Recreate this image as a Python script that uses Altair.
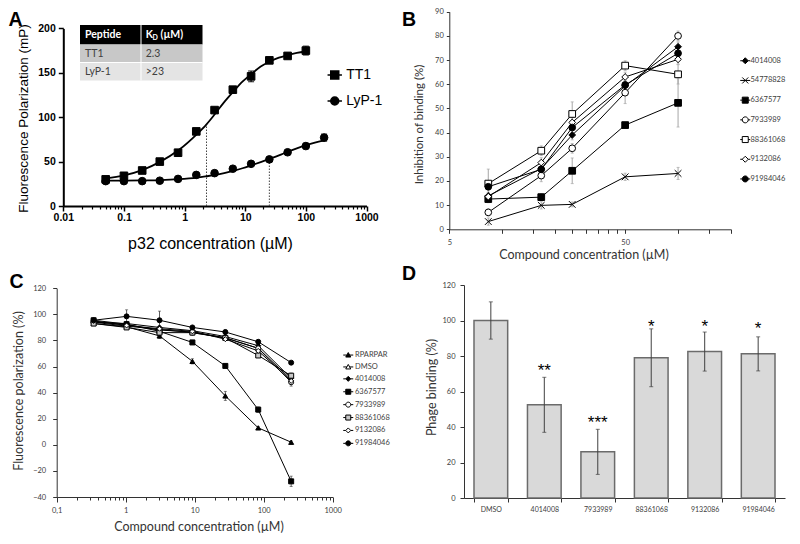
import altair as alt
import pandas as pd

W, H = 784, 528
FA = "Liberation Sans"
FB = "Lato"

# ---------------- Panel A data ----------------
a_series = ["TT1", "LyP-1"]
a_tt1_conc = [0.05, 0.1, 0.2, 0.39, 0.78, 1.56, 3.125, 6.25, 12.5, 25, 50, 100]
a_tt1_fp = [30, 34, 40, 50, 60, 84, 108, 131, 146, 164, 169, 175]
a_tt1_err = [1, 1, 1, 1, 1, 1, 1.5, 2, 6, 2, 3, 5]
a_lyp_conc = [0.05, 0.1, 0.2, 0.39, 0.78, 1.56, 3.125, 6.25, 12.5, 25, 50, 100, 200]
a_lyp_fp = [28, 28, 28, 28.5, 30.5, 35, 37, 42, 47.5, 52.5, 60.5, 67.5, 77]
a_lyp_err = [1, 1.5, 1, 1, 1, 1, 1, 1, 1, 1, 1, 3, 4]
a_fit_conc = [0.05, 0.1, 0.2, 0.4, 0.8, 1.6, 2.3, 3.2, 4.5, 6.4, 9, 12.8, 18, 25, 36, 50, 71, 100, 141, 200]
a_fit_tt1 = [31, 34.5, 40.5, 50, 63, 81, 92, 104, 117, 129, 140, 149, 157, 162.5, 167, 170, 172.5, 174]
a_fit_lyp = [28.5, 28.6, 28.8, 29.2, 30.2, 32, 33.5, 35, 37, 39.5, 42.5, 46, 49.5, 53, 57, 61, 65, 68.5, 71.5, 74]
a_kd_conc = [2.3, 25]
a_kd_fp = [92, 53]
tbl_head = ["Peptide", "K", "D", "(µM)"]
tbl_peptide = ["TT1", "LyP-1"]
tbl_kd = ["2.3", ">23"]

# ---------------- Panel B data ----------------
b_conc = [8.33, 16.67, 25, 50, 100]
b_series = ["4014008", "54778828", "6367577", "7933989", "88361068", "9132086", "91984046"]
b_vals = [
    [13.8, 25.1, 39.0, 59.3, 75.5],
    [3.2, 9.9, 10.3, 21.7, 23.1],
    [12.5, 13.3, 24.2, 43.1, 52.3],
    [7.0, 22.2, 33.5, 56.5, 80.0],
    [18.9, 32.5, 47.7, 67.7, 64.1],
    [13.5, 27.6, 44.2, 63.0, 70.3],
    [17.6, 24.8, 42.1, 59.7, 72.8],
]
b_errs = [
    [1.5, 1.5, 2, 2, 2],
    [1.5, 1.5, 1, 1.5, 2.5],
    [1.5, 1.5, 5.3, 1, 10],
    [1.5, 2.5, 2, 4.5, 2],
    [6, 2, 5, 2, 4],
    [1.5, 2, 2, 2, 2],
    [1.5, 2, 2, 2, 2],
]

# ---------------- Panel C data ----------------
c_conc = [0.343, 1.03, 3.09, 9.26, 27.8, 83.3, 250]
c_series = ["RPARPAR", "DMSO", "4014008", "6367577", "7933989", "88361068", "9132086", "91984046"]
c_vals = [
    [93, 90.5, 83.5, 64, 37.5, 13, 2],
    [94.5, 92, 88, 86.5, 82, 74, 50],
    [94, 93, 90, 87.5, 83, 76, 51],
    [95.5, 92.5, 87, 78.5, 60.5, 27, -28],
    [94, 91, 88.5, 86, 82, 74, 48],
    [93, 90, 86, 86, 82, 68.5, 53],
    [95, 91.5, 89, 87, 81, 72, 49],
    [95.5, 98.5, 95.5, 90, 86.5, 79, 63],
]
c_errs = [
    [1, 1, 2, 2, 3.5, 1, 1],
    [1, 1, 1, 1, 1, 1, 2],
    [1, 1, 1, 1, 1, 1, 2],
    [1, 1, 1, 1, 1, 2, 4],
    [1, 1, 1, 1, 1, 1, 3],
    [1, 1, 1, 1, 1, 1, 2],
    [1, 1, 1, 1, 1, 1, 2],
    [1, 5, 7, 1, 1.5, 1, 1],
]

# ---------------- Panel D data ----------------
d_cats = ["DMSO", "4014008", "7933989", "88361068", "9132086", "91984046"]
d_vals = [100, 52.5, 26, 79, 82.5, 81.2]
d_errs = [10.5, 15.5, 12.7, 16.3, 11, 9.6]
d_stars = ["", "**", "***", "*", "*", "*"]
d_star_pos = [0, 74.3, 44.8, 98.7, 98.7, 97.8]

panel_letters = ["A", "B", "C", "D"]


def long_df(names, xs_list, ys_list, es_list):
    rows = []
    for n, xs, ys, es in zip(names, xs_list, ys_list, es_list):
        for x, y, e in zip(xs, ys, es):
            rows.append({"series": n, "x": x, "y": y, "lo": y - e, "hi": y + e})
    return pd.DataFrame(rows)


def ax(orient, offset, **kw):
    base = dict(orient=orient, offset=offset, grid=False, labelFlush=False, labelOverlap=False)
    base.update(kw)
    return alt.Axis(**base)


# marker paths for legends (line + marker)
def leg_path(marker, L):
    if marker == "x":
        return f"M{-L},0H{L}M-1,-1L1,1M-1,1L1,-1"
    if marker == "tri":
        line = f"M{-L},0H-0.55M0.55,0H{L}"
    else:
        line = f"M{-L},0H-1M1,0H{L}"
    shapes = {
        "sq": "M-1,-1H1V1H-1Z",
        "ci": "M-1,0A1,1,0,1,0,1,0A1,1,0,1,0,-1,0Z",
        "di": "M0,-1L1,0L0,1L-1,0Z",
        "tri": "M0,-1L1,0.8H-1Z",
    }
    return line + shapes[marker]


XPATH = "M-1,-1L1,1M-1,1L1,-1"

def legend_layer(names, shape_range, fill_range, size, sw, leg):
    base = alt.Chart(pd.DataFrame({"series": names})).transform_filter("false")
    return base.mark_point(strokeWidth=sw, size=size, opacity=1).encode(
        x=alt.value(0), y=alt.value(0),
        shape=alt.Shape("series:N", scale=alt.Scale(domain=names, range=shape_range), legend=leg),
        fill=alt.Fill("series:N", scale=alt.Scale(domain=names, range=fill_range), legend=leg),
        stroke=alt.Stroke("series:N", scale=alt.Scale(domain=names, range=["black"] * len(names)), legend=leg),
    )


def resolve_panel(ch):
    return (ch.resolve_scale(shape="independent", fill="independent", size="independent", stroke="independent")
              .resolve_axis(x="independent", y="independent")
              .resolve_legend(shape="independent", fill="independent", size="independent", stroke="independent"))


# ======================= Panel A =======================
xA = alt.Scale(type="log", domain=[0.01, 1000], range=[55.3, 358.5], nice=False)
yA = alt.Scale(domain=[0, 200], range=[198, 20.4], nice=False, zero=False)
dfA = long_df(a_series, [a_tt1_conc, a_lyp_conc], [a_tt1_fp, a_lyp_fp], [a_tt1_err, a_lyp_err])
dfA_fit = pd.concat([
    pd.DataFrame({"series": "TT1", "x": a_fit_conc[:len(a_fit_tt1)], "y": a_fit_tt1}),
    pd.DataFrame({"series": "LyP-1", "x": a_fit_conc, "y": a_fit_lyp}),
])
dfA_kd = pd.DataFrame({"x": a_kd_conc, "y": a_kd_fp, "base": [0, 0]})

minorA = [m * 10 ** e for e in range(-2, 3) for m in range(2, 10)]
axA_xmaj = ax("bottom", 198 - H, values=[0.01, 0.1, 1, 10, 100, 1000], format="~g",
              tickSize=5, tickWidth=1.5, tickColor="black", domainColor="black", domainWidth=2,
              labelFont=FA, labelFontSize=10.5, labelFontWeight="bold", labelColor="black", labelPadding=1,
              title="p32 concentration (µM)", titleFont=FA, titleFontSize=16, titleFontWeight="normal",
              titleColor="black", titleX=202, titleY=42, titleAlign="center", titleBaseline="alphabetic",
              titleAngle=0)
axA_xmin = ax("bottom", 198 - H, values=minorA, tickSize=3, tickWidth=1.2, tickColor="black",
              labels=False, domain=False, title=None)
axA_y = ax("left", -55.3, values=[0, 50, 100, 150, 200], tickSize=5, tickWidth=1.5, tickColor="black",
           domainColor="black", domainWidth=2, labelFont=FA, labelFontSize=10.5, labelFontWeight="bold",
           labelColor="black", labelPadding=3,
           title="Fluorescence Polarization (mP)", titleFont=FA, titleFontSize=13.5, titleFontWeight="normal",
           titleColor="black", titleX=-36, titleY=110, titleAngle=270, titleAlign="center",
           titleBaseline="alphabetic")

A_kd = alt.Chart(dfA_kd).mark_rule(color="#444", strokeWidth=1, strokeDash=[1.5, 1.5]).encode(
    x=alt.X("x:Q", scale=xA, axis=None), y=alt.Y("base:Q", scale=yA, axis=None), y2="y:Q")
A_fit = alt.Chart(dfA_fit).mark_line(color="black", strokeWidth=1.8, interpolate="monotone").encode(
    x=alt.X("x:Q", scale=xA, axis=axA_xmaj), y=alt.Y("y:Q", scale=yA, axis=axA_y), detail="series:N")
A_err = alt.Chart(dfA).mark_rule(color="black", strokeWidth=1.3).encode(
    x=alt.X("x:Q", scale=xA, axis=None), y=alt.Y("lo:Q", scale=yA, axis=None), y2="hi:Q")
A_caplo = alt.Chart(dfA).mark_tick(orient="horizontal", size=6, thickness=1.3, color="black").encode(
    x=alt.X("x:Q", scale=xA, axis=None), y=alt.Y("lo:Q", scale=yA, axis=None))
A_caphi = alt.Chart(dfA).mark_tick(orient="horizontal", size=6, thickness=1.3, color="black").encode(
    x=alt.X("x:Q", scale=xA, axis=None), y=alt.Y("hi:Q", scale=yA, axis=None))
A_pts = alt.Chart(dfA).mark_point(stroke="black", strokeWidth=1, size=58, opacity=1).encode(
    x=alt.X("x:Q", scale=xA, axis=axA_xmin), y=alt.Y("y:Q", scale=yA, axis=None),
    shape=alt.Shape("series:N", scale=alt.Scale(domain=a_series, range=["square", "circle"]), legend=None),
    fill=alt.Fill("series:N", scale=alt.Scale(domain=a_series, range=["black", "black"]), legend=None))
legA = alt.Legend(orient="none", legendX=319.75, legendY=60, title=None, labelFont=FA, labelFontSize=14,
                  labelColor="black", labelOffset=4.5, rowPadding=12, symbolSize=64,
                  symbolStrokeWidth=1.5, padding=0)
A_leg = legend_layer(a_series, [leg_path("sq", 1.8), leg_path("ci", 1.8)], ["black", "black"], 64, 1.5, legA)

one = pd.DataFrame({"k": [0]})
def rect(x1, x2, y1, y2, color):
    return alt.Chart(one).mark_rect(color=color).encode(
        x=alt.value(x1), x2=alt.value(x2), y=alt.value(y1), y2=alt.value(y2))

def txt(s, x, y, size, color="black", weight="normal", font=FB, align="left", baseline="middle", dy=0):
    return alt.Chart(one).mark_text(text=s, font=font, fontSize=size, color=color, fontWeight=weight,
                                    align=align, baseline=baseline, dy=dy).encode(
        x=alt.value(x), y=alt.value(y))

table = alt.layer(
    rect(72, 194.5, 17, 36.5, "black"),
    rect(72, 194.5, 36.5, 54.5, "#c8c8c8"),
    rect(72, 194.5, 54.5, 72.5, "#e4e4e4"),
    rect(132.5, 133.5, 17, 72.5, "white"),
    rect(72, 194.5, 54, 55, "white"),
    txt(tbl_head[0], 77, 26.8, 10.5, "white", "bold"),
    txt(tbl_head[1], 137.7, 26.8, 10.5, "white", "bold"),
    txt(tbl_head[2], 144.6, 29.8, 7, "white", "bold"),
    txt(tbl_head[3], 152.5, 26.8, 10.5, "white", "bold"),
    txt(tbl_peptide[0], 77, 45.5, 10.5, "#404040"),
    txt(tbl_kd[0], 137.7, 45.5, 10.5, "#404040"),
    txt(tbl_peptide[1], 77, 63.8, 10.5, "#404040"),
    txt(tbl_kd[1], 137.7, 63.8, 10.5, "#404040"),
)

panelA = resolve_panel(alt.layer(A_kd, A_fit, A_err, A_caplo, A_caphi, A_pts, A_leg))

# ======================= Panel B =======================
xB = alt.Scale(type="log", domain=[5, 200], range=[441.3, 723], nice=False)
yB = alt.Scale(domain=[0, 90], range=[221.3, 3.7], nice=False, zero=False)
dfB = long_df(b_series, [b_conc] * len(b_series), b_vals, b_errs)
b_shapes = ["diamond", XPATH, "square", "circle", "square", "diamond", "circle"]
b_fills = ["black", "white", "black", "white", "white", "white", "black"]
b_sizes = [45, 45, 60, 75, 75, 35, 65]
b_leg_shapes = [leg_path("di", 1.67), leg_path("x", 1.67), leg_path("sq", 1.67), leg_path("ci", 1.67),
                leg_path("sq", 1.67), leg_path("di", 1.67), leg_path("ci", 1.67)]

axB_x = ax("bottom", 221.3 - H, values=[5, 10, 15, 20, 25, 30, 35, 40, 45, 50, 100, 150, 200],
           labelExpr="datum.value == 5 || datum.value == 50 ? datum.label : ''",
           tickSize=4, tickColor="#333", domainColor="#333", labelFont=FB, labelFontSize=7.5,
           labelColor="#404040", labelPadding=5,
           title="Compound concentration (µM)", titleFont=FB, titleFontSize=12.5, titleFontWeight="normal",
           titleColor="#333", titleX=575.5, titleY=29, titleAlign="center", titleBaseline="alphabetic",
           titleAngle=0)
axB_y = ax("left", -441.3, values=list(range(0, 91, 10)), tickSize=3, tickColor="#333", domainColor="#333",
           labelFont=FB, labelFontSize=7.5, labelColor="#404040", labelPadding=3,
           title="Inhibition of binding (%)", titleFont=FB, titleFontSize=11.5, titleFontWeight="normal",
           titleColor="#333", titleX=-27, titleY=116, titleAngle=270, titleAlign="center",
           titleBaseline="alphabetic")

B_line = alt.Chart(dfB).mark_line(color="black", strokeWidth=1).encode(
    x=alt.X("x:Q", scale=xB, axis=axB_x), y=alt.Y("y:Q", scale=yB, axis=axB_y), detail="series:N")
B_err = alt.Chart(dfB).mark_rule(color="#a6a6a6", strokeWidth=1).encode(
    x=alt.X("x:Q", scale=xB, axis=None), y=alt.Y("lo:Q", scale=yB, axis=None), y2="hi:Q")
B_cap1 = alt.Chart(dfB).mark_tick(orient="horizontal", size=3, thickness=1, color="#a6a6a6").encode(
    x=alt.X("x:Q", scale=xB, axis=None), y=alt.Y("lo:Q", scale=yB, axis=None))
B_cap2 = alt.Chart(dfB).mark_tick(orient="horizontal", size=3, thickness=1, color="#a6a6a6").encode(
    x=alt.X("x:Q", scale=xB, axis=None), y=alt.Y("hi:Q", scale=yB, axis=None))
B_pts = alt.Chart(dfB).mark_point(stroke="black", strokeWidth=1, opacity=1).encode(
    x=alt.X("x:Q", scale=xB, axis=None), y=alt.Y("y:Q", scale=yB, axis=None),
    shape=alt.Shape("series:N", scale=alt.Scale(domain=b_series, range=b_shapes), legend=None),
    fill=alt.Fill("series:N", scale=alt.Scale(domain=b_series, range=b_fills), legend=None),
    size=alt.Size("series:N", scale=alt.Scale(domain=b_series, range=b_sizes), legend=None))
legB = alt.Legend(orient="none", legendX=733.5, legendY=49, title=None, labelFont=FB, labelFontSize=7.5,
                  labelColor="#404040", labelOffset=1.5, rowPadding=8.7, symbolSize=36,
                  symbolStrokeWidth=1, padding=0)
B_leg = legend_layer(b_series, b_leg_shapes, b_fills, 36, 1, legB)

panelB = resolve_panel(alt.layer(B_line, B_err, B_cap1, B_cap2, B_pts, B_leg))

# ======================= Panel C =======================
xC = alt.Scale(type="log", domain=[0.1, 1000], range=[48.7, 324.7], nice=False)
yC = alt.Scale(domain=[-40, 120], range=[489, 280.3], nice=False, zero=False)
dfC = long_df(c_series, [c_conc] * len(c_series), c_vals, c_errs)
c_shapes = ["triangle-up", "triangle-up", "diamond", "square", "circle", "square", "diamond", "circle"]
c_fills = ["black", "white", "black", "black", "white", "#c8c8c8", "white", "black"]
c_sizes = [25, 25, 22, 40, 22, 30, 25, 28]
c_leg_shapes = [leg_path("tri", 2), leg_path("tri", 2), leg_path("di", 2), leg_path("sq", 2),
                leg_path("ci", 2), leg_path("sq", 2), leg_path("di", 2), leg_path("ci", 2)]
minorC = [m * 10 ** e for e in range(-1, 3) for m in range(2, 10)]

axC_xmaj = ax("bottom", 489 - H, values=[0.1, 1, 10, 100, 1000],
              labelExpr="replace(format(datum.value, '~g'), '.', ',')",
              tickSize=5, tickColor="#333", domainColor="#333", labelFont=FB, labelFontSize=7.5,
              labelColor="#404040", labelPadding=4.5,
              title="Compound concentration (µM)", titleFont=FB, titleFontSize=12.5, titleFontWeight="normal",
              titleColor="#333", titleX=190.5, titleY=33.7, titleAlign="center", titleBaseline="alphabetic",
              titleAngle=0)
axC_xmin = ax("bottom", 489 - H, values=minorC, tickSize=3, tickColor="#333", labels=False, domain=False,
              title=None)
axC_y = ax("left", -48.7, values=list(range(-40, 121, 20)), tickSize=4, tickColor="#333", domainColor="#333",
           labelFont=FB, labelFontSize=7.5, labelColor="#404040", labelPadding=7,
           title="Fluorescence polarization (%)", titleFont=FB, titleFontSize=12.5, titleFontWeight="normal",
           titleColor="#333", titleX=-34, titleY=382.5, titleAngle=270, titleAlign="center",
           titleBaseline="alphabetic")

C_line = alt.Chart(dfC).mark_line(color="black", strokeWidth=1).encode(
    x=alt.X("x:Q", scale=xC, axis=axC_xmaj), y=alt.Y("y:Q", scale=yC, axis=axC_y), detail="series:N")
C_err = alt.Chart(dfC).mark_rule(color="#333", strokeWidth=0.8).encode(
    x=alt.X("x:Q", scale=xC, axis=axC_xmin), y=alt.Y("lo:Q", scale=yC, axis=None), y2="hi:Q")
C_cap1 = alt.Chart(dfC).mark_tick(orient="horizontal", size=3, thickness=0.8, color="#333").encode(
    x=alt.X("x:Q", scale=xC, axis=None), y=alt.Y("lo:Q", scale=yC, axis=None))
C_cap2 = alt.Chart(dfC).mark_tick(orient="horizontal", size=3, thickness=0.8, color="#333").encode(
    x=alt.X("x:Q", scale=xC, axis=None), y=alt.Y("hi:Q", scale=yC, axis=None))
C_pts = alt.Chart(dfC).mark_point(stroke="black", strokeWidth=1, opacity=1).encode(
    x=alt.X("x:Q", scale=xC, axis=None), y=alt.Y("y:Q", scale=yC, axis=None),
    shape=alt.Shape("series:N", scale=alt.Scale(domain=c_series, range=c_shapes), legend=None),
    fill=alt.Fill("series:N", scale=alt.Scale(domain=c_series, range=c_fills), legend=None),
    size=alt.Size("series:N", scale=alt.Scale(domain=c_series, range=c_sizes), legend=None))
legC = alt.Legend(orient="none", legendX=336.5, legendY=343.3, title=None, labelFont=FB, labelFontSize=7.5,
                  labelColor="#404040", labelOffset=3, rowPadding=2.9, symbolSize=25,
                  symbolStrokeWidth=1, padding=0)
C_leg = legend_layer(c_series, c_leg_shapes, c_fills, 25, 1, legC)

panelC = resolve_panel(alt.layer(C_line, C_err, C_cap1, C_cap2, C_pts, C_leg))

# ======================= Panel D =======================
dfD = pd.DataFrame({"cat": d_cats, "val": d_vals, "lo": [v - e for v, e in zip(d_vals, d_errs)],
                    "hi": [v + e for v, e in zip(d_vals, d_errs)], "star": d_stars, "spos": d_star_pos})
xD = alt.Scale(domain=d_cats, range=[456, 777], paddingInner=0.37, paddingOuter=0.187)
yD = alt.Scale(domain=[0, 120], range=[490, 277], nice=False, zero=False)
axD_x = ax("bottom", 490 - H, tickBand="extent", tickSize=4, tickColor="#333", domainColor="#333",
           labelFont=FB, labelFontSize=7, labelColor="#404040", labelPadding=3, labelAngle=0, title=None)
axD_y = ax("left", -456, values=list(range(0, 121, 20)), tickSize=4, tickColor="#333", domainColor="#333",
           labelFont=FB, labelFontSize=7.5, labelColor="#404040", labelPadding=5,
           title="Phage binding (%)", titleFont=FB, titleFontSize=12.5, titleFontWeight="normal",
           titleColor="#333", titleX=-29, titleY=379, titleAngle=270, titleAlign="center",
           titleBaseline="alphabetic")

D_bar = alt.Chart(dfD).mark_bar(fill="#d9d9d9", stroke="#6b6b6b", strokeWidth=1.5).encode(
    x=alt.X("cat:N", scale=xD, axis=axD_x, sort=d_cats), y=alt.Y("val:Q", scale=yD, axis=axD_y))
D_err = alt.Chart(dfD).mark_rule(color="#404040", strokeWidth=1).encode(
    x=alt.X("cat:N", scale=xD, axis=None, sort=d_cats), y=alt.Y("lo:Q", scale=yD, axis=None), y2="hi:Q")
D_cap1 = alt.Chart(dfD).mark_tick(orient="horizontal", size=4, thickness=1, color="#404040").encode(
    x=alt.X("cat:N", scale=xD, axis=None, sort=d_cats), y=alt.Y("lo:Q", scale=yD, axis=None))
D_cap2 = alt.Chart(dfD).mark_tick(orient="horizontal", size=4, thickness=1, color="#404040").encode(
    x=alt.X("cat:N", scale=xD, axis=None, sort=d_cats), y=alt.Y("hi:Q", scale=yD, axis=None))
D_star = alt.Chart(dfD).mark_text(font=FA, fontSize=17, color="black", baseline="alphabetic", dy=9.5).encode(
    x=alt.X("cat:N", scale=xD, axis=None, sort=d_cats), y=alt.Y("spos:Q", scale=yD, axis=None), text="star:N")

panelD = resolve_panel(alt.layer(D_bar, D_err, D_cap1, D_cap2, D_star))

# ======================= panel letters =======================
letters = alt.layer(
    txt(panel_letters[0], 7.5, 17.5, 19.5, weight="bold", font=FA, align="center", baseline="alphabetic"),
    txt(panel_letters[1], 401, 17.5, 19.5, weight="bold", font=FA, align="center", baseline="alphabetic"),
    txt(panel_letters[2], 8.5, 280, 19.5, weight="bold", font=FA, align="center", baseline="alphabetic"),
    txt(panel_letters[3], 401, 272, 19.5, weight="bold", font=FA, align="center", baseline="alphabetic"),
)

chart = (alt.layer(panelA, table, panelB, panelC, panelD, letters)
         .resolve_scale(x="independent", y="independent", shape="independent", fill="independent",
                        size="independent", stroke="independent")
         .resolve_axis(x="independent", y="independent")
         .resolve_legend(shape="independent", fill="independent", size="independent", stroke="independent")
         .properties(width=W, height=H, padding=0, autosize=alt.AutoSizeParams(type="none"),
                     background="white")
         .configure_view(stroke=None))

chart.save("out.html", embed_options={"renderer": "svg", "actions": False})
